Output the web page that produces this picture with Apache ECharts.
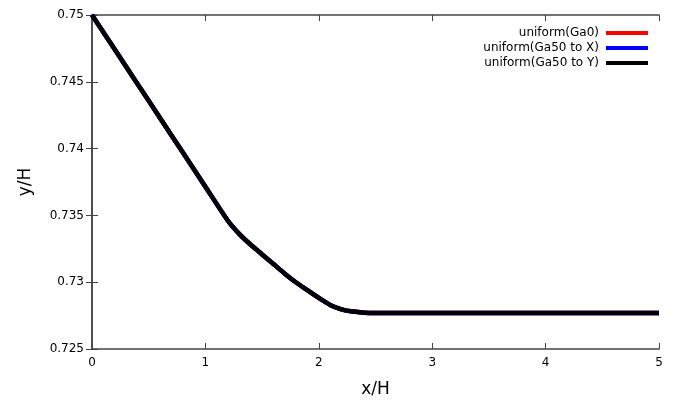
<!DOCTYPE html>
<html>
<head>
<meta charset="utf-8">
<script src="https://cdn.jsdelivr.net/npm/echarts@6/dist/echarts.min.js"></script>
<style>
  html, body { margin: 0; padding: 0; background: #fff; }
  #chart { width: 676px; height: 400px; }
</style>
</head>
<body>
<div id="chart"></div>
<script>
// values
const xs = [0, 0.2, 0.4, 0.6, 0.8, 1.0, 1.2, 1.3, 1.4, 1.5, 1.6, 1.7, 1.8, 1.9, 2.0,
  2.1, 2.2, 2.3, 2.4, 2.5, 3.0, 3.5, 4.0, 4.5, 5.0];
const ys = [0.75, 0.74743, 0.74486, 0.74229, 0.73972, 0.73715, 0.73458, 0.7336, 0.7328,
  0.73208, 0.73136, 0.73064, 0.72998, 0.7294, 0.72882, 0.7283, 0.72797, 0.7278, 0.72772,
  0.7277, 0.7277, 0.7277, 0.7277, 0.7277, 0.7277];
const seriesNames = ['uniform(Ga0)', 'uniform(Ga50 to X)', 'uniform(Ga50 to Y)'];
const seriesColors = ['#ff0000', '#0000ff', '#000000'];

const pts = xs.map((x, i) => [x, ys[i]]);
const chart = echarts.init(document.getElementById('chart'));

const axisCol = '#444';
const font = 'DejaVu Sans';

const option = {
  animation: false,
  grid: { left: 92, right: 17, top: 15, bottom: 51, outerBoundsMode: 'none' },
  legend: {
    right: 23,
    top: 22,
    orient: 'vertical',
    align: 'right',
    itemGap: 3,
    itemWidth: 42,
    itemHeight: 10,
    textStyle: { fontFamily: font, fontSize: 12, color: '#000', padding: [0, 2, 0, 0] },
    data: seriesNames.map((n, i) => ({
      name: n,
      icon: 'path://M0,0 L40,0 L40,4 L0,4 Z',
      itemStyle: { color: seriesColors[i] }
    }))
  },
  xAxis: [
    {
      type: 'value', min: 0, max: 5, interval: 1,
      name: 'x/H', nameLocation: 'middle', nameGap: 32,
      nameTextStyle: { fontFamily: font, fontSize: 17, color: '#000' },
      axisLine: { lineStyle: { color: axisCol, width: 1.5 } },
      axisTick: { inside: true, length: 6, lineStyle: { color: axisCol } },
      axisLabel: { fontFamily: font, fontSize: 12, color: '#000', margin: 8 },
      splitLine: { show: false }
    },
    {
      type: 'value', min: 0, max: 5, interval: 1, position: 'top',
      axisLine: { lineStyle: { color: axisCol, width: 1.5 } },
      axisTick: { inside: true, length: 6, lineStyle: { color: axisCol } },
      axisLabel: { show: false },
      splitLine: { show: false }
    }
  ],
  yAxis: [
    {
      type: 'value', min: 0.725, max: 0.75, interval: 0.005,
      name: 'y/H', nameLocation: 'middle', nameGap: 58,
      nameTextStyle: { fontFamily: font, fontSize: 17, color: '#000' },
      axisLine: { show: true, lineStyle: { color: axisCol, width: 1.5 } },
      axisTick: { inside: true, length: 6, lineStyle: { color: axisCol } },
      axisLabel: {
        fontFamily: font, fontSize: 12, color: '#000', margin: 8,
        formatter: v => String(+v.toFixed(3))
      },
      splitLine: { show: false }
    },
    {
      type: 'value', min: 0.725, max: 0.75, interval: 0.005, position: 'right',
      axisLine: { show: true, lineStyle: { color: axisCol, width: 1.5 } },
      axisTick: { inside: true, length: 6, lineStyle: { color: axisCol } },
      axisLabel: { show: false },
      splitLine: { show: false }
    }
  ],
  series: seriesNames.map((n, i) => ({
    name: n,
    type: 'line',
    data: pts,
    smooth: 0.2,
    showSymbol: false,
    color: seriesColors[i],
    lineStyle: { color: seriesColors[i], width: 4.5 },
    z: 2 + i
  }))
};

chart.setOption(option);
</script>
</body>
</html>
